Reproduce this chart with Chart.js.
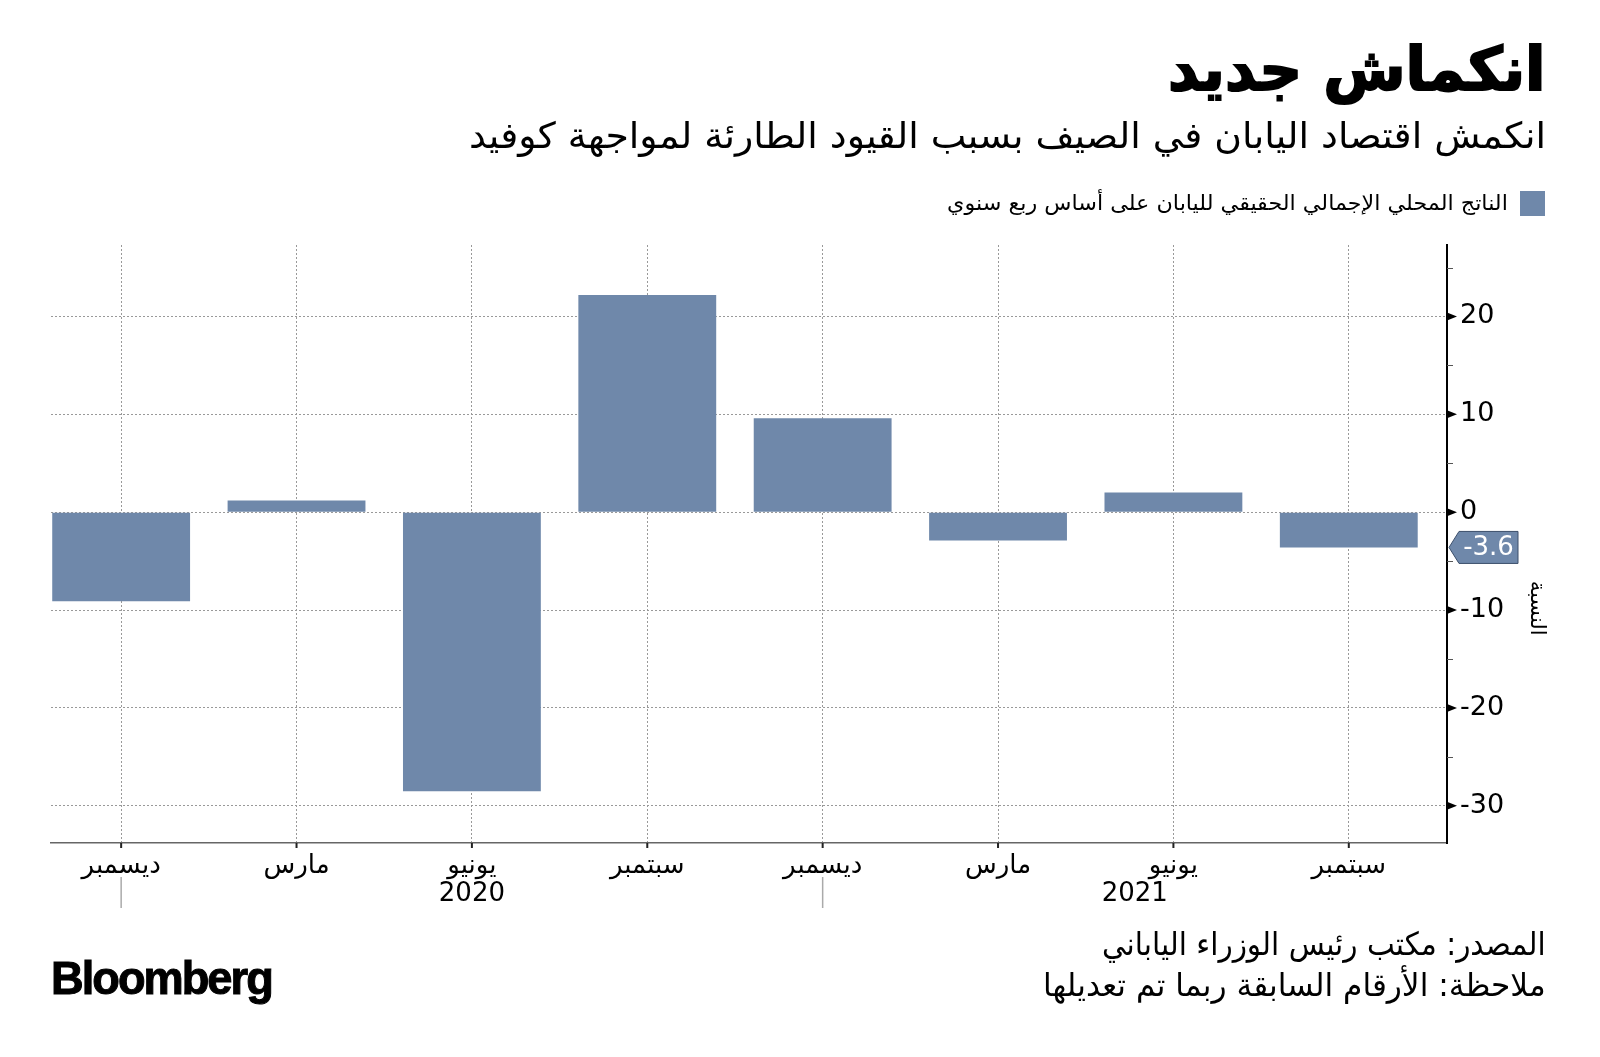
<!DOCTYPE html>
<html>
<head>
    <title>انكماش جديد</title>
    <meta charset="utf-8">
    <script src="https://cdn.jsdelivr.net/npm/chart.js@4.4.0/dist/chart.umd.min.js"></script>
    <style>
      body {
        margin: 0;
        background: #fff;
        width: 1600px;
        height: 1057px;
        overflow: hidden;
        position: relative;
        font-family: "DejaVu Sans", sans-serif;
      }
      .chart-container {
        position: absolute;
        left: 0;
        top: 0;
        width: 1600px;
        height: 1057px;
      }
      .txt {
        position: absolute;
        direction: rtl;
        white-space: nowrap;
        color: #000;
        transform-origin: right center;
      }
      #title { right: 54px; top: 39px; font-size: 60px; line-height: 60px; font-weight: bold; -webkit-text-stroke: 2px #000; }
      #subtitle { right: 54px; top: 118px; font-size: 36px; line-height: 36px; }
      #legend { right: 92px; top: 192px; font-size: 21px; line-height: 22px; }
      #legendBox { position: absolute; left: 1520px; top: 191px; width: 25px; height: 25px; background: #6f88aa; }
      #src { right: 54px; top: 927px; font-size: 32px; line-height: 34px; }
      #note { right: 54px; top: 968px; font-size: 32px; line-height: 34px; }
      #logo {
        position: absolute; left: 51px; top: 956px;
        font-family: "Liberation Sans", Arial, sans-serif; font-weight: bold;
        font-size: 46px; line-height: 44px; letter-spacing: -2px; color: #000;
        -webkit-text-stroke: 1px #000;
        transform-origin: left center; white-space: nowrap;
      }
    </style>
</head>
<body>
    <div class="chart-container">
        <canvas id="chart"></canvas>
    </div>
    <div id="title" class="txt">انكماش جديد</div>
    <div id="subtitle" class="txt">انكمش اقتصاد اليابان في الصيف بسبب القيود الطارئة لمواجهة كوفيد</div>
    <div id="legendBox"></div>
    <div id="legend" class="txt">الناتج المحلي الإجمالي الحقيقي لليابان على أساس ربع سنوي</div>
    <div id="src" class="txt">المصدر: مكتب رئيس الوزراء الياباني</div>
    <div id="note" class="txt">ملاحظة: الأرقام السابقة ربما تم تعديلها</div>
    <div id="logo">Bloomberg</div>

    <script>
        // quarter ends, Dec 2019 .. Sep 2021
        const months = ['ديسمبر', 'مارس', 'يونيو', 'سبتمبر', 'ديسمبر', 'مارس', 'يونيو', 'سبتمبر'];
        const gdp = [-9.1, 1.2, -28.5, 22.2, 9.6, -2.9, 2.0, -3.6];
        const yearLabels = ['2020', '2021'];
        const yearPos = [2, 5.78];
        const yearBreaks = [0, 4];
        const yTicks = [-30, -20, -10, 0, 10, 20];
        const yMinor = [-25, -15, -5, 5, 15, 25];
        const yTitle = 'النسبة';

        const barColor = '#6f88aa';

        // squeeze the html text blocks to the widths seen in the original
        function fitWidth(id, w) {
            let el = document.getElementById(id);
            el.style.transform = 'scaleX(' + (w / el.offsetWidth) + ')';
        }
        fitWidth('title', 378);
        fitWidth('subtitle', 1077);
        fitWidth('legend', 561);
        fitWidth('src', 444);
        fitWidth('note', 503);
        fitWidth('logo', 221);

        let extras = {
            id: 'extras',
            afterDraw(chart) {
                let ctx = chart.ctx;
                let a = chart.chartArea;
                let x = chart.scales.x, y = chart.scales.y;
                ctx.save();

                // arrow heads at the major y ticks
                ctx.fillStyle = '#000';
                yTicks.forEach(v => {
                    let py = y.getPixelForValue(v);
                    ctx.beginPath();
                    ctx.moveTo(a.right, py - 4);
                    ctx.lineTo(a.right + 10, py);
                    ctx.lineTo(a.right, py + 4);
                    ctx.closePath();
                    ctx.fill();
                });
                // minor ticks
                ctx.strokeStyle = '#555';
                ctx.lineWidth = 1;
                yMinor.forEach(v => {
                    if (v < y.min || v > y.max) return;
                    let py = Math.round(y.getPixelForValue(v)) + 0.5;
                    ctx.beginPath();
                    ctx.moveTo(a.right, py);
                    ctx.lineTo(a.right + 6, py);
                    ctx.stroke();
                });

                // small x tick marks
                ctx.strokeStyle = '#222';
                ctx.lineWidth = 2;
                months.forEach((_, i) => {
                    let px = x.getPixelForValue(i);
                    ctx.beginPath();
                    ctx.moveTo(px, a.bottom);
                    ctx.lineTo(px, a.bottom + 5);
                    ctx.stroke();
                });
                // year separators
                ctx.strokeStyle = '#aaa';
                ctx.lineWidth = 1.5;
                yearBreaks.forEach(v => {
                    let px = x.getPixelForValue(v);
                    ctx.beginPath();
                    ctx.moveTo(px, a.bottom + 34);
                    ctx.lineTo(px, a.bottom + 65);
                    ctx.stroke();
                });
                // year labels
                ctx.fillStyle = '#000';
                ctx.font = '26px "DejaVu Sans"';
                ctx.textAlign = 'center';
                ctx.textBaseline = 'middle';
                yearLabels.forEach((t, i) => {
                    ctx.fillText(t, x.getPixelForValue(yearPos[i]), a.bottom + 51);
                });

                // y axis title
                ctx.save();
                ctx.translate(a.right + 89, y.getPixelForValue(-9.8));
                ctx.rotate(Math.PI / 2);
                ctx.font = '21px "DejaVu Sans"';
                ctx.fillText(yTitle, 0, 0);
                ctx.restore();

                // latest value tag
                let last = gdp[gdp.length - 1];
                let py = y.getPixelForValue(last);
                let l = a.right + 2, r = a.right + 71, h = 16;
                ctx.fillStyle = barColor;
                ctx.strokeStyle = '#3c4f6b';
                ctx.lineWidth = 1;
                ctx.beginPath();
                ctx.moveTo(l, py);
                ctx.lineTo(l + 10, py - h);
                ctx.lineTo(r, py - h);
                ctx.lineTo(r, py + h);
                ctx.lineTo(l + 10, py + h);
                ctx.closePath();
                ctx.fill();
                ctx.stroke();
                ctx.fillStyle = '#fff';
                ctx.font = '26px "DejaVu Sans"';
                ctx.textAlign = 'center';
                ctx.fillText(last.toFixed(1), (l + 10 + r) / 2, py + 1);

                ctx.restore();
            }
        };

        let ctx = document.getElementById('chart').getContext('2d');
        let chart = new Chart(ctx, {
            type: 'bar',
            data: {
                datasets: [{
                    data: gdp.map((v, i) => ({x: i, y: v})),
                    backgroundColor: barColor,
                    borderWidth: 0,
                    categoryPercentage: 1,
                    barPercentage: 0.786
                }]
            },
            plugins: [extras],
            options: {
                responsive: true,
                maintainAspectRatio: false,
                animation: false,
                layout: {
                    padding: {left: 51, top: 245, right: 63, bottom: 164}
                },
                plugins: {
                    legend: {display: false},
                    tooltip: {enabled: false}
                },
                scales: {
                    x: {
                        type: 'linear',
                        offset: false,
                        min: -0.4,
                        max: 7.56,
                        afterBuildTicks: s => { s.ticks = months.map((_, i) => ({value: i})); },
                        afterFit: s => { s.height = 50; },
                        grid: {
                            offset: false,
                            color: '#999',
                            lineWidth: 1,
                            drawTicks: false
                        },
                        border: {
                            display: true,
                            color: '#666',
                            width: 1.5,
                            dash: [2, 2]
                        },
                        ticks: {
                            autoSkip: false,
                            maxRotation: 0,
                            padding: 8,
                            color: '#000',
                            font: {family: 'DejaVu Sans', size: 26},
                            callback: v => months[v]
                        }
                    },
                    y: {
                        position: 'right',
                        min: -33.8,
                        max: 27.3,
                        afterBuildTicks: s => { s.ticks = yTicks.map(v => ({value: v})); },
                        afterFit: s => { s.width = 90; },
                        grid: {
                            color: '#999',
                            lineWidth: 1,
                            drawTicks: false
                        },
                        border: {
                            display: true,
                            color: '#000',
                            width: 2,
                            dash: [2, 2]
                        },
                        ticks: {
                            padding: 13,
                            color: '#000',
                            font: {family: 'DejaVu Sans', size: 27},
                            callback: v => String(v)
                        }
                    }
                }
            }
        });
    </script>
</body>
</html>
